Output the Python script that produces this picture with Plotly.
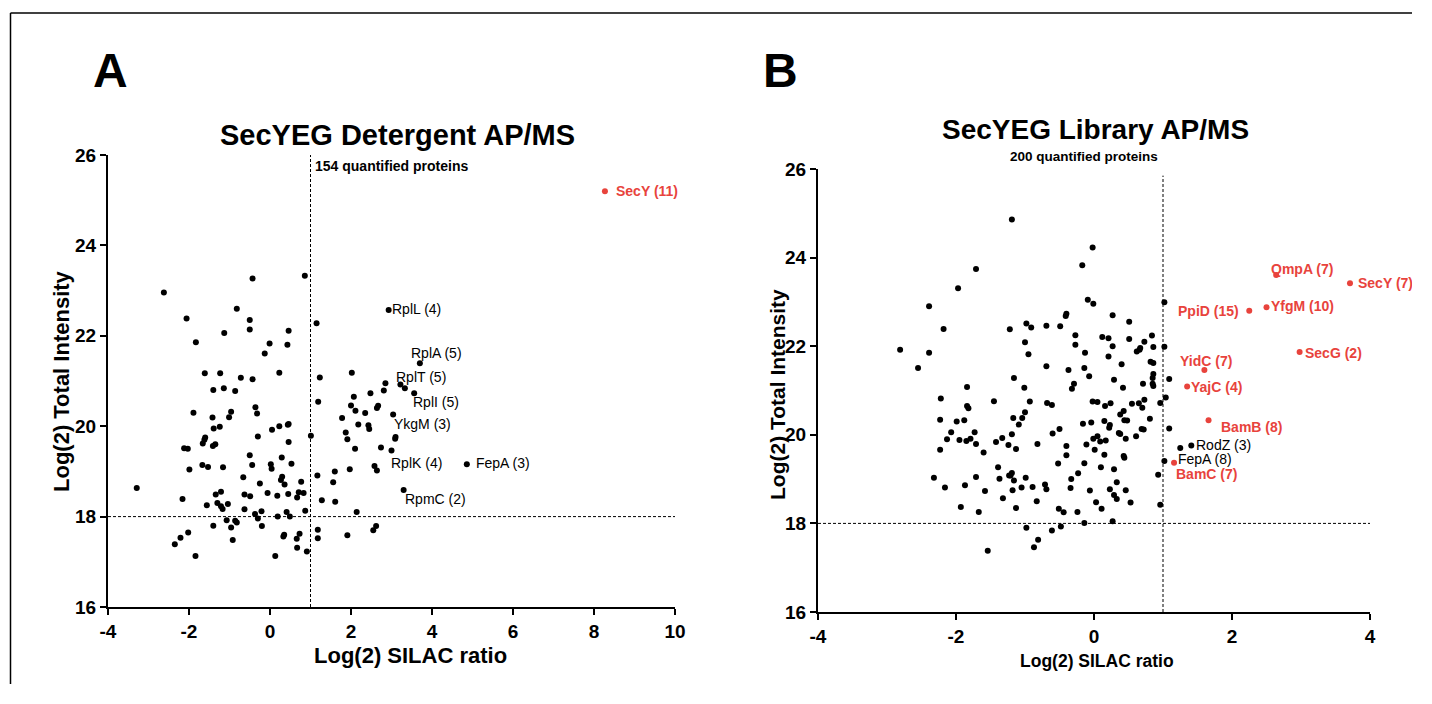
import plotly.graph_objects as go

# ---------------- Panel A: SecYEG Detergent AP/MS ----------------
a_x = [-2.62, -0.43, 0.86, -2.06, -0.82, -0.50, -0.50, -1.13, -1.83, 0.46, -0.01, 0.43, -0.13, 1.15,
       -1.61, -1.23, -0.72, -0.43, 0.23, 1.23, 2.02, 2.85, 2.93, 3.70, 3.22, 3.33,
       -1.40, -1.14, -0.86, -1.89, -0.36, -0.32, -0.96, -1.01, -1.42, -1.24, -1.39, -1.60, -1.62, -1.66,
       -1.35, -1.41, -2.12, -2.03, -0.30, 0.05, 0.23, 0.44, 0.46, 0.46, 1.01, 1.19, -0.50, -1.67, -1.53,
       -1.99, -1.16, -0.44, 0.02, 0.04, 0.29, 0.53, -0.66, 0.30, 0.27, 0.36, 0.77, -0.25, -3.29, -2.16,
       -1.21, -1.34, -1.56, -1.30, -1.21, -1.17, -1.04, -0.63, -0.49, -0.06, 0.18, 0.45, 0.71, 0.83, 0.67,
       -0.63, -0.21, -0.37, -0.30, 0.41, 0.87, 1.17, 1.60, 1.56, 1.61, 1.28, 1.97, 2.10, 1.91, 1.87, 1.78,
       2.00, 2.11, 2.07, 2.18, 2.35, 2.48, 2.67, 2.64, 2.43, 2.45, 2.74, 2.81, 3.04, 3.09, 3.10, 3.00, 2.58,
       2.64, 2.14, 1.91, 2.62, 2.55, 1.18, 1.18, 0.91, 0.73, 0.66, 0.67, 0.35, 0.33, 0.13, 0.19, 0.49,
       -0.20, -0.92, -0.96, -0.86, -0.82, -1.07, -1.40, -2.02, -2.21, -2.35, -1.84, 3.56, 4.86, 3.30]
a_y = [22.96, 23.27, 23.33, 22.38, 22.60, 22.35, 22.14, 22.06, 21.86, 22.11, 21.83, 21.80, 21.61, 22.28,
       21.17, 21.17, 21.07, 21.04, 21.18, 21.08, 21.18, 20.95, 22.57, 21.39, 20.92, 20.84,
       20.80, 20.84, 20.78, 20.30, 20.42, 20.28, 20.32, 20.20, 20.19, 19.99, 19.95, 19.75, 19.70, 19.62,
       19.60, 19.56, 19.51, 19.50, 19.77, 19.92, 20.00, 20.03, 20.05, 19.65, 19.79, 20.54, 19.36, 19.14, 19.10,
       19.04, 19.09, 19.14, 19.16, 19.06, 19.31, 19.17, 18.87, 18.88, 18.81, 18.71, 18.77, 18.73, 18.63, 18.39,
       18.55, 18.49, 18.25, 18.30, 18.23, 18.17, 18.28, 18.49, 18.45, 18.52, 18.46, 18.50, 18.54, 18.52, 18.42,
       18.16, 18.12, 18.06, 17.96, 18.10, 18.13, 18.91, 19.00, 18.76, 18.33, 18.36, 19.05, 19.50, 19.71, 19.86, 20.18,
       20.46, 20.34, 20.65, 20.04, 20.29, 20.73, 20.45, 20.40, 20.02, 19.94, 19.53, 20.79, 20.26, 19.72, 19.76, 19.46, 19.12,
       19.02, 18.10, 17.59, 17.79, 17.70, 17.71, 17.52, 17.23, 17.62, 17.51, 17.31, 17.60, 17.56, 17.13, 18.00, 18.00,
       17.79, 17.48, 17.76, 17.91, 17.87, 17.92, 17.80, 17.65, 17.53, 17.39, 17.13, 20.73, 19.16, 18.59]

a_red_x = [8.27]
a_red_y = [25.20]
a_red_names = ["SecY (11)"]

a_lab_names = ["RplL (4)", "RplA (5)", "RplT (5)", "RplI (5)", "YkgM (3)", "RplK (4)", "FepA (3)", "RpmC (2)"]
a_lab_x = [2.93, 3.70, 3.22, 3.56, 3.04, 3.00, 4.86, 3.30]
a_lab_y = [22.57, 21.39, 20.92, 20.73, 20.26, 19.46, 19.16, 18.59]

# ---------------- Panel B: SecYEG Library AP/MS ----------------
b_x = [-1.71, -1.97, -2.39, -2.18, -2.81, -2.39, -2.55, -1.84, -1.22, -2.22, -1.45, -1.84, -1.82, -2.23,
       -1.99, -1.88, -2.07, -1.73, -2.13, -1.95, -1.85, -1.79, -1.71, -1.42, -1.33, -1.24, -2.23, -1.60,
       -1.39, -1.37, -1.23, -1.71, -2.32, -2.16, -1.87, -1.58, -1.32, -1.93, -1.67, -1.54,
       -1.19, -0.02, -0.17, -0.09, -0.01, 1.02, -0.40, -0.41, 0.27, 0.51, -0.98, -0.91, -0.69, -0.49,
       -1.00, -0.95, -0.27, -0.27, 0.12, 0.21, 0.27, 0.51, 0.84, 0.86, 1.02, 0.73, 0.67, 0.66, 0.62,
       -0.13, 0.21, 0.40, 0.82, 0.86, -0.69, -0.37, -0.14, -0.07, -1.16, -1.01, -0.29, -0.32, 0.29, 0.42,
       0.71, 0.85, 0.86, 0.85, 0.86, 1.09,
       1.04, 0.96, -0.93, -0.68, -0.61, -0.02, 0.05, 0.16, 0.24, 0.55, 0.65, 0.73, 0.70, -1.00, -1.17,
       -1.09, -1.04, 0.38, 0.43, 0.44, 0.48, 0.15, 0.23, 0.22, -0.16, -0.04, 0.81, 0.69, 0.72, 1.09,
       -1.19, -1.13, -0.82, -0.60, -0.50, -0.40, -0.40, -0.52, -0.11, -0.01, 0.05, 0.09, 0.17, 0.01, 0.15,
       0.36, 0.38, 0.46, 0.61, 0.44, 0.43, 0.10, 0.29, -0.14, -0.23, -0.33, -0.34, -0.06, 0.03, 0.11,
       0.23, 0.29, 0.33, 0.33, 0.46, 0.53, 0.93, 0.96, 1.02, 1.25, 1.41, 0.27, -0.14, -0.48, -0.61,
       -0.24, -0.44, -0.51, -0.71, -0.69, -0.89, -0.83, -1.05, -0.99, -1.18, -1.16, -1.21, -1.19, -1.13,
       -0.98, -0.81, -0.87]
b_y = [23.74, 23.31, 22.90, 22.39, 21.92, 21.85, 21.51, 21.08, 22.38, 20.82, 20.76, 20.65, 20.60, 20.34,
       20.30, 20.33, 20.06, 20.06, 19.90, 19.88, 19.86, 19.91, 19.79, 19.84, 19.93, 19.77, 19.66, 19.60,
       19.27, 19.01, 19.08, 19.05, 19.03, 18.81, 18.86, 18.73, 18.57, 18.37, 18.26, 17.38,
       24.86, 24.23, 23.83, 23.05, 22.96, 22.99, 22.73, 22.68, 22.70, 22.55, 22.51, 22.42, 22.46, 22.45,
       22.09, 21.82, 22.25, 22.03, 22.21, 22.18, 22.00, 22.16, 22.24, 21.98, 21.99, 22.10, 21.96, 21.92, 21.88,
       21.85, 21.77, 21.59, 21.65, 21.62, 21.55, 21.46, 21.51, 21.32, 21.28, 21.06, 21.15, 21.04, 21.24, 21.06,
       21.15, 21.15, 21.10, 21.28, 21.37, 21.26,
       20.84, 20.72, 20.75, 20.72, 20.67, 20.75, 20.74, 20.65, 20.71, 20.70, 20.71, 20.79, 20.61, 20.51, 20.38,
       20.23, 20.38, 20.46, 20.54, 20.33, 20.32, 20.31, 20.22, 20.16, 20.25, 20.28, 20.36, 20.13, 20.12, 20.14,
       20.01, 19.68, 19.79, 20.03, 20.13, 19.75, 19.54, 19.35, 19.78, 19.91, 19.97, 19.85, 19.87, 19.66, 19.55,
       20.04, 20.02, 19.91, 19.97, 19.48, 19.52, 19.27, 19.22, 19.36, 19.13, 19.00, 18.80, 18.74, 18.48, 18.33,
       18.77, 18.64, 18.55, 18.93, 18.75, 18.47, 19.10, 18.42, 19.41, 19.70, 19.76, 18.05, 18.01, 17.93, 17.84,
       18.26, 18.25, 18.33, 18.88, 18.77, 18.82, 18.50, 18.81, 19.03, 18.75, 18.97, 19.08, 19.14, 18.35,
       17.90, 17.63, 17.46]

b_red_names = ["QmpA (7)", "SecY (7)", "YfgM (10)", "PpiD (15)", "SecG (2)", "YidC (7)", "YajC (4)", "BamB (8)", "BamC (7)"]
b_red_x = [2.64, 3.71, 2.50, 2.25, 2.98, 1.60, 1.35, 1.66, 1.16]
b_red_y = [23.61, 23.42, 22.88, 22.80, 21.87, 21.46, 21.09, 20.33, 19.37]

b_lab_names = ["RodZ (3)", "FepA (8)"]
b_lab_x = [1.41, 1.02]
b_lab_y = [19.76, 19.41]

x_ticks_a = [-4, -2, 0, 2, 4, 6, 8, 10]
x_ticktext_a = ["-4", "-2", "0", "2", "4", "6", "8", "10"]
x_ticks_b = [-4, -2, 0, 2, 4]
x_ticktext_b = ["-4", "-2", "0", "2", "4"]
y_ticks = [16, 18, 20, 22, 24, 26]
y_ticktext = ["16", "18", "20", "22", "24", "26"]

# ---------------- styling ----------------
W, H = 1412, 684
FONT = "Arial, Liberation Sans, sans-serif"
RED = "#e8433c"


def px_x(p):
    return p / W


def px_y(p):
    return 1 - p / H


fig = go.Figure()
fig.add_trace(go.Scatter(x=a_x, y=a_y, mode="markers", marker=dict(color="black", size=6),
                         xaxis="x", yaxis="y", hoverinfo="skip"))
fig.add_trace(go.Scatter(x=a_red_x, y=a_red_y, mode="markers", marker=dict(color=RED, size=6),
                         xaxis="x", yaxis="y", hoverinfo="skip"))
fig.add_trace(go.Scatter(x=b_x, y=b_y, mode="markers", marker=dict(color="black", size=6),
                         xaxis="x2", yaxis="y2", hoverinfo="skip"))
fig.add_trace(go.Scatter(x=b_red_x, y=b_red_y, mode="markers", marker=dict(color=RED, size=6),
                         xaxis="x2", yaxis="y2", hoverinfo="skip"))

axis_common = dict(showgrid=False, zeroline=False, showline=True, linecolor="black", linewidth=2,
                   ticks="outside", ticklen=6, tickwidth=2, tickcolor="black", tickmode="array",
                   tickfont=dict(family=FONT, size=19, color="black", weight="bold"))

fig.update_layout(
    width=W, height=H, margin=dict(l=0, r=0, t=0, b=0, autoexpand=False), autosize=False,
    paper_bgcolor="white", plot_bgcolor="white", showlegend=False,
    xaxis=dict(domain=[px_x(108), px_x(675)], range=[-4, 10], tickvals=x_ticks_a, ticktext=x_ticktext_a,
               anchor="y", **axis_common),
    yaxis=dict(domain=[px_y(607), px_y(155)], range=[16, 26], tickvals=y_ticks, ticktext=y_ticktext,
               anchor="x", **axis_common),
    xaxis2=dict(domain=[px_x(818), px_x(1370)], range=[-4, 4], tickvals=x_ticks_b, ticktext=x_ticktext_b,
                anchor="y2", **axis_common),
    yaxis2=dict(domain=[px_y(612), px_y(169)], range=[16, 26], tickvals=y_ticks, ticktext=y_ticktext,
                anchor="x2", **axis_common),
)

dash = dict(color="black", width=1, dash="3px,2px")
shapes = [
    dict(type="line", xref="x", yref="y", x0=1, x1=1, y0=16, y1=26, line=dash),
    dict(type="line", xref="x", yref="y", x0=-4, x1=10, y0=18, y1=18, line=dash),
    dict(type="line", xref="x2", yref="y2", x0=1, x1=1, y0=16, y1=25.85, line=dash),
    dict(type="line", xref="x2", yref="y2", x0=-4, x1=4, y0=18, y1=18, line=dash),
    # outer frame
    dict(type="line", xref="paper", yref="paper", x0=px_x(10.5), x1=1, y0=px_y(13), y1=px_y(13),
         line=dict(color="black", width=1.5)),
    dict(type="line", xref="paper", yref="paper", x0=px_x(10.5), x1=px_x(10.5), y0=px_y(13), y1=0,
         line=dict(color="black", width=1.5)),
]
fig.update_layout(shapes=shapes)

ann = []


def text_ann(txt, x, y, size, bold=True, xanchor="center", yanchor="middle", color="black", angle=0):
    ann.append(dict(text=txt, x=px_x(x), y=px_y(y), xref="paper", yref="paper", showarrow=False,
                    xanchor=xanchor, yanchor=yanchor, textangle=angle,
                    font=dict(family=FONT, size=size, color=color, weight="bold" if bold else "normal")))


text_ann("A", 110, 70, 48)
text_ann("B", 780, 70, 48)
text_ann("SecYEG Detergent AP/MS", 398, 135, 29)
text_ann("SecYEG Library AP/MS", 1095, 130, 28)
text_ann("154 quantified proteins", 313, 166, 14, xanchor="left")
text_ann("200 quantified proteins", 1084, 157, 13.5)
text_ann("Log(2) SILAC ratio", 410, 655, 22)
text_ann("Log(2) SILAC ratio", 1097, 661, 17.5)
text_ann("Log(2) Total Intensity", 62, 381, 22, angle=-90)
text_ann("Log(2) Total Intensity", 777, 395, 21, angle=-90)

# point labels: (xanchor, xshift, yshift) per label
a_red_style = [("left", 9, 0)]
a_lab_style = [("left", 1, 1), ("left", -11, 10), ("left", -6, 8), ("left", -3, -9),
               ("left", -1, -10), ("left", -3, -12), ("left", 7, 1), ("left", -1, -9)]
b_red_style = [("left", -7, 6), ("left", 6, 0), ("left", 2, 1), ("right", -8, 0), ("left", 3, -1),
               ("left", -26, 9), ("left", 2, 0), ("left", 10, -7), ("left", 0, -11)]
b_lab_style = [("left", 3, 0), ("left", 12, 2)]


def point_labels(names, xs, ys, styles, xref, yref, color, bold):
    for n, x, y, (xa, dx, dy) in zip(names, xs, ys, styles):
        ann.append(dict(text=n, x=x, y=y, xref=xref, yref=yref, showarrow=False,
                        xanchor=xa, yanchor="middle", xshift=dx, yshift=dy,
                        font=dict(family=FONT, size=14, color=color, weight="bold" if bold else "normal")))


point_labels(a_red_names, a_red_x, a_red_y, a_red_style, "x", "y", RED, True)
point_labels(a_lab_names, a_lab_x, a_lab_y, a_lab_style, "x", "y", "black", False)
point_labels(b_red_names, b_red_x, b_red_y, b_red_style, "x2", "y2", RED, True)
point_labels(b_lab_names, b_lab_x, b_lab_y, b_lab_style, "x2", "y2", "black", False)

fig.update_layout(annotations=ann)
fig.write_html("out.html", config={"responsive": False, "displayModeBar": False},
               post_script="document.body.style.margin='0px';document.body.style.overflow='hidden';")
